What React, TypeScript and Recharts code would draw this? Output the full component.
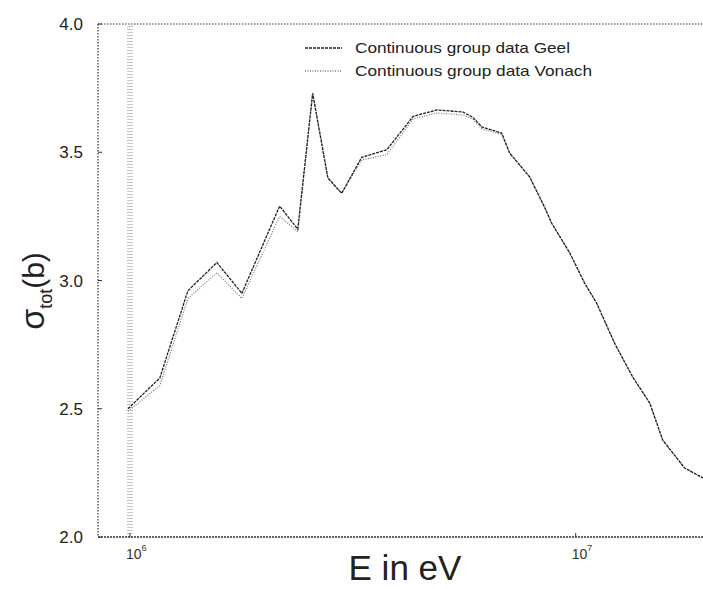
import React from 'react';
import { LineChart, Line, XAxis, YAxis, ReferenceLine, Legend, Label } from 'recharts';

const energies = [0.99e6, 1.167e6, 1.349e6, 1.567e6, 1.783e6, 2.167e6, 2.38e6, 2.57e6, 2.78e6, 2.985e6, 3.31e6, 3.77e6, 4.32e6, 4.88e6, 5.58e6, 5.87e6, 6.17e6, 6.82e6, 7.11e6, 7.88e6, 8.51e6, 8.83e6, 9.7e6, 1.047e7, 1.114e7, 1.222e7, 1.342e7, 1.466e7, 1.567e7, 1.755e7, 1.93e7];
const geel = [2.50, 2.62, 2.96, 3.07, 2.95, 3.29, 3.20, 3.73, 3.40, 3.34, 3.48, 3.51, 3.64, 3.665, 3.657, 3.637, 3.598, 3.575, 3.497, 3.404, 3.287, 3.224, 3.107, 2.99, 2.912, 2.756, 2.624, 2.522, 2.378, 2.269, 2.23];
const vonach = [2.49, 2.59, 2.93, 3.03, 2.93, 3.25, 3.19, 3.73, 3.40, 3.34, 3.47, 3.49, 3.63, 3.653, 3.645, 3.63, 3.59, 3.57, 3.497, 3.404, 3.287, 3.224, 3.107, 2.99, 2.912, 2.756, 2.624, 2.522, 2.378, 2.269, 2.23];
const yTicks = [2.0, 2.5, 3.0, 3.5, 4.0];
const xTicks = [1e6, 1e7];
const seriesNames = ['Continuous group data Geel', 'Continuous group data Vonach'];

const data = energies.map((e, i) => ({ E: e, geel: geel[i], vonach: vonach[i] }));

const FONT = '"Liberation Sans", Arial, sans-serif';

const YTick = (props: any) => {
  const { x, y, payload } = props;
  return (
    <g>
      <line x1={x + 15} x2={x + 19} y1={y} y2={y} stroke="#333" strokeWidth={1} />
      <text x={x} y={y} dy={6} textAnchor="end" fontSize={17} fontFamily={FONT} fill="#222">
        {Number(payload.value).toFixed(1)}
      </text>
    </g>
  );
};

const XTick = (props: any) => {
  const { x, y, payload } = props;
  const exp = Math.round(Math.log10(payload.value));
  return (
    <g>
      <line x1={x} x2={x} y1={y} y2={y - 4} stroke="#333" strokeWidth={1} />
      <text x={x - 4} y={y + 22} fontSize={14} fontFamily={FONT} fill="#333">
        10
        <tspan fontSize={9} dy={-8}>{exp}</tspan>
      </text>
    </g>
  );
};

const renderLegend = (props: any) => {
  const items = [
    { name: seriesNames[0], dash: '3 1', color: '#222' },
    { name: seriesNames[1], dash: '1 1.5', color: '#777' },
  ];
  return (
    <svg width={300} height={50} style={{ display: 'block' }}>
      {items.map((it, i) => (
        <g key={it.name}>
          <line x1={5} x2={42} y1={12 + i * 23} y2={12 + i * 23} stroke={it.color} strokeWidth={1.3} strokeDasharray={it.dash} />
          <text x={55} y={17 + i * 23} fontSize={15} fontFamily={FONT} fill="#222" textLength={i === 0 ? 215 : 237} lengthAdjust="spacingAndGlyphs">
            {it.name}
          </text>
        </g>
      ))}
    </svg>
  );
};

const YLabel = () => (
  <text transform="rotate(-90, 44, 291)" x={44} y={291} textAnchor="middle" fontFamily={FONT} fill="#222">
    <tspan fontSize={34}>σ</tspan>
    <tspan fontSize={18} dy={8}>tot</tspan>
    <tspan fontSize={30} dy={-8}>(b)</tspan>
  </text>
);

const XLabel = () => (
  <text x={405} y={580} textAnchor="middle" fontSize={35} fontFamily={FONT} fill="#222" textLength={113} lengthAdjust="spacingAndGlyphs">
    E in eV
  </text>
);

export default function App() {
  return (
    <div style={{ position: 'absolute', left: 0, top: 0, width: 703, height: 589, background: '#fff' }}>
      <LineChart width={703} height={589} data={data} margin={{ top: 24, right: 0, left: 0, bottom: 0 }}>
        <ReferenceLine x={1e6} stroke="#c4c4c4" strokeWidth={6} strokeDasharray="1 2" />
        <ReferenceLine y={4} stroke="#333" strokeWidth={1.2} strokeDasharray="1.5 1.5" />
        <XAxis
          dataKey="E"
          type="number"
          scale="log"
          domain={[8.48e5, 1.93e7]}
          allowDataOverflow
          ticks={xTicks}
          tick={<XTick />}
          tickLine={false}
          tickSize={0}
          tickMargin={0}
          height={52}
          axisLine={{ stroke: '#333', strokeWidth: 1.3, strokeDasharray: '2 1' }}
        >
          <Label content={<XLabel />} />
        </XAxis>
        <YAxis
          type="number"
          domain={[2, 4]}
          ticks={yTicks}
          width={98}
          tick={<YTick />}
          tickLine={false}
          tickSize={0}
          tickMargin={15}
          allowDataOverflow
          axisLine={{ stroke: '#333', strokeWidth: 1.2, strokeDasharray: '1.5 1.5' }}
        >
          <Label content={<YLabel />} />
        </YAxis>
        <Legend
          layout="vertical"
          align="center"
          verticalAlign="middle"
          content={renderLegend}
          wrapperStyle={{ position: 'absolute', left: 300, top: 36, width: 300, height: 50 }}
        />
        <Line name={seriesNames[1]} dataKey="vonach" stroke="#777" strokeWidth={1.2} strokeDasharray="1 1.5" dot={false} isAnimationActive={false} />
        <Line name={seriesNames[0]} dataKey="geel" stroke="#222" strokeWidth={1.3} strokeDasharray="3 1" dot={false} isAnimationActive={false} />
      </LineChart>
    </div>
  );
}
